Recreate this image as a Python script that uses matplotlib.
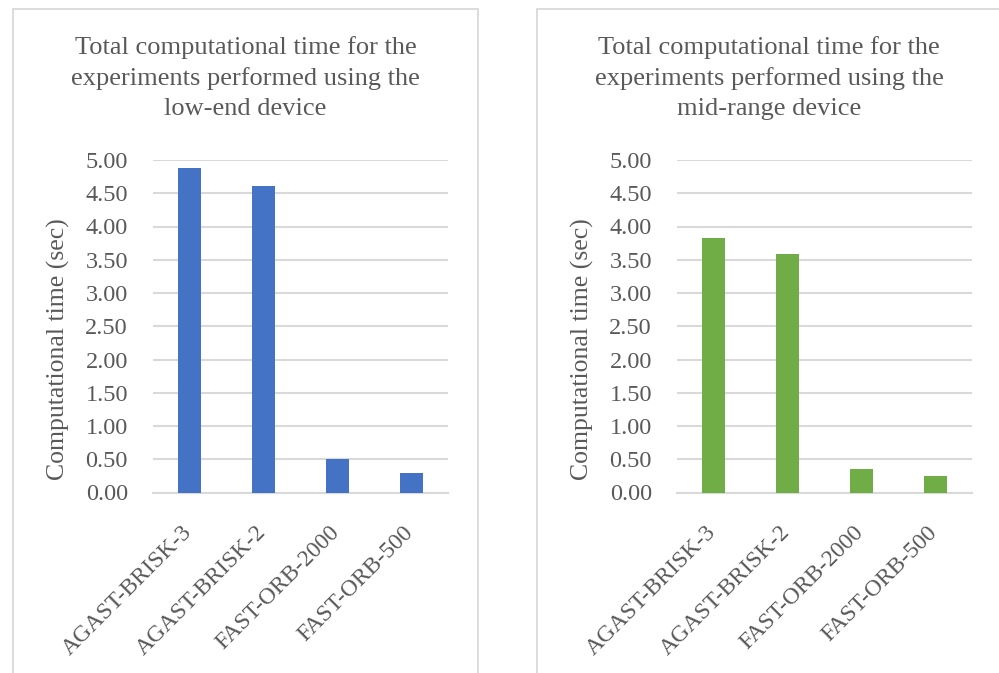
import matplotlib.pyplot as plt
from matplotlib.patches import Rectangle

# Detector/descriptor combinations and their total run times (seconds)
methods = ['AGAST-BRISK-3', 'AGAST-BRISK-2', 'FAST-ORB-2000', 'FAST-ORB-500']
low_end_time = [4.88, 4.61, 0.50, 0.30]
mid_range_time = [3.83, 3.58, 0.35, 0.25]
yticks = [0.0, 0.5, 1.0, 1.5, 2.0, 2.5, 3.0, 3.5, 4.0, 4.5, 5.0]

panels = [
    ('Total computational time for the\nexperiments performed using the\nlow-end device',
     low_end_time, '#4472c4', 13, 478),
    ('Total computational time for the\nexperiments performed using the\nmid-range device',
     mid_range_time, '#70ad47', 537, 1001),
]

W, H = 999, 673
text_color = '#595959'
grid_color = '#d9d9d9'
plt.rcParams['font.family'] = ['Liberation Serif', 'DejaVu Serif']

fig = plt.figure(figsize=(W / 100, H / 100), dpi=100)

for title, values, color, x0, x1 in panels:
    # chart frame
    fig.add_artist(Rectangle((x0 / W, -0.05), (x1 - x0) / W, 1.05 - 9 / H,
                             transform=fig.transFigure, fill=False,
                             edgecolor=grid_color, linewidth=1.3))

    ax_left = x0 + 140
    ax = fig.add_axes([ax_left / W, (H - 492.5) / H, 295 / W, 332.5 / H])
    ax.bar(range(len(methods)), values, width=0.31, color=color, zorder=3)
    ax.set_xlim(-0.5, len(methods) - 0.5)
    ax.set_ylim(0, 5)
    ax.set_yticks(yticks)
    ax.set_yticklabels([f'{v:.2f}' for v in yticks], fontsize=17.5, color=text_color)
    ax.set_xticks(range(len(methods)))
    ax.set_xticklabels([])
    # slanted category labels, set slightly left of each bar centre
    for i, name in enumerate(methods):
        ax.annotate(name, xy=(i, 0), xycoords=('data', 'axes fraction'),
                    xytext=(-6, -21), textcoords='offset points',
                    rotation=45, ha='right', va='top', rotation_mode='anchor',
                    fontsize=17, color=text_color, annotation_clip=False)
    ax.tick_params(axis='both', length=0)
    ax.tick_params(axis='y', pad=18)
    ax.grid(axis='y', color=grid_color, linewidth=1.5, zorder=0)
    for side in ['top', 'right', 'left']:
        ax.spines[side].set_visible(False)
    ax.spines['bottom'].set_color(grid_color)
    ax.spines['bottom'].set_linewidth(1.5)
    ax.set_ylabel('Computational time (sec)', fontsize=18.5, color=text_color)
    ax.yaxis.set_label_coords(-0.28, 0.43)

    fig.text((x0 + x1) / 2 / W, 1 - 36 / H, title, ha='center', va='top',
             fontsize=19, color=text_color, linespacing=1.45)

fig.savefig('out.png', dpi=100)
